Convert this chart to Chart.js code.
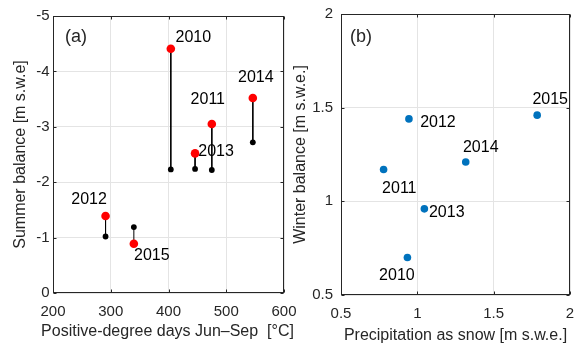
<!DOCTYPE html>
<html>
<head>
<meta charset="utf-8">
<script src="https://cdn.jsdelivr.net/npm/chart.js@4/dist/chart.umd.min.js"></script>
<style>
  html, body { margin: 0; padding: 0; background: #fff; overflow: hidden; width: 574px; height: 345px; }
  canvas { position: absolute; top: 0; }
  #chartA { left: 0; }
  #chartB { left: 290px; }
</style>
</head>
<body>
<canvas id="chartA" width="320" height="345"></canvas>
<canvas id="chartB" width="284" height="345"></canvas>
<script>
// ---- data ----
const years = ['2010', '2011', '2012', '2013', '2014', '2015'];
const pdd = [404, 475, 291, 446, 546, 340];                       // °C, Jun–Sep
const summerBalance = [-4.41, -3.05, -1.39, -2.52, -3.52, -0.89]; // red
const summerBalanceRef = [-2.23, -2.22, -1.02, -2.24, -2.72, -1.19]; // black
const snowPrecip = [0.935, 0.779, 0.945, 1.046, 1.317, 1.785];    // m s.w.e.
const winterBalance = [0.70, 1.17, 1.44, 0.96, 1.21, 1.46];       // m s.w.e.

const pddTicks = [200, 300, 400, 500, 600];
const summerTicks = [-5, -4, -3, -2, -1, 0];
const snowTicks = [0.5, 1, 1.5, 2];
const winterTicks = [0.5, 1, 1.5, 2];

// ---- shared styling ----
const FONT = 'Liberation Sans, Arial, Helvetica, sans-serif';
const TEXT = '#262626';
const GRID = '#e4e4e4';
const AXIS = '#262626';

// stems between the two summer-balance values of each year (null breaks the line)
const stemPoints = [];
years.forEach((_, i) => {
  stemPoints.push({ x: pdd[i], y: summerBalance[i] });
  stemPoints.push({ x: pdd[i], y: summerBalanceRef[i] });
  stemPoints.push({ x: pdd[i], y: null });
});

// box around the plot area with inward tick marks on all four sides
const boxPlugin = {
  id: 'boxAxes',
  beforeDatasetsDraw(chart) {
    const { ctx, chartArea: a, scales } = chart;
    const L = Math.round(a.left) + 0.5, R = Math.round(a.right) - 0.5;
    const T = Math.round(a.top) + 0.5, B = Math.round(a.bottom) - 0.5;
    const len = 3;
    ctx.save();
    ctx.strokeStyle = AXIS;
    ctx.lineWidth = 1;
    ctx.beginPath();
    scales.x.ticks.forEach(t => {
      const px = Math.round(scales.x.getPixelForValue(t.value)) + 0.5;
      ctx.moveTo(px, B); ctx.lineTo(px, B - len);
      ctx.moveTo(px, T); ctx.lineTo(px, T + len);
    });
    scales.y.ticks.forEach(t => {
      const py = Math.round(scales.y.getPixelForValue(t.value)) + 0.5;
      ctx.moveTo(L, py); ctx.lineTo(L + len, py);
      ctx.moveTo(R, py); ctx.lineTo(R - len, py);
    });
    ctx.stroke();
    ctx.strokeRect(L, T, R - L, B - T);
    ctx.restore();
  }
};

// year annotations next to the points of one dataset
const yearLabelPlugin = {
  id: 'yearLabels',
  afterDatasetsDraw(chart, args, opts) {
    const meta = chart.getDatasetMeta(opts.datasetIndex);
    const { ctx } = chart;
    ctx.save();
    ctx.font = opts.font;
    ctx.fillStyle = opts.color;
    ctx.textAlign = 'center';
    ctx.textBaseline = 'middle';
    meta.data.forEach((el, i) => {
      const [dx, dy] = opts.offsets[i];
      ctx.fillText(years[i], el.x + dx, el.y + dy);
    });
    ctx.restore();
  }
};

// panel letter in the upper-left corner
const panelTagPlugin = {
  id: 'panelTag',
  afterDraw(chart, args, opts) {
    const { ctx, chartArea: a } = chart;
    ctx.save();
    ctx.font = opts.font;
    ctx.fillStyle = TEXT;
    ctx.textAlign = 'left';
    ctx.textBaseline = 'middle';
    ctx.fillText(opts.text, a.left + opts.dx, a.top + opts.dy);
    ctx.restore();
  }
};

// x-axis title that may run wider than the plot area (no width squeeze)
const wideXTitlePlugin = {
  id: 'wideXTitle',
  afterDraw(chart, args, opts) {
    if (!opts.text) return;
    const { ctx, chartArea: a } = chart;
    ctx.save();
    ctx.font = opts.font;
    ctx.fillStyle = TEXT;
    ctx.textAlign = 'center';
    ctx.textBaseline = 'middle';
    ctx.fillText(opts.text, (a.left + a.right) / 2 + opts.dx, a.bottom + opts.dy);
    ctx.restore();
  }
};

function axisOpts({ min, max, reverse, ticks, fit, title, titlePad, tickPad }) {
  return {
    type: 'linear',
    min, max,
    reverse: !!reverse,
    afterBuildTicks: s => { s.ticks = ticks.map(v => ({ value: v })); },
    afterFit: s => {
      if (s.isHorizontal()) { s.height = fit; s.paddingLeft = 0; s.paddingRight = 0; }
      else { s.width = fit; s.paddingTop = 0; s.paddingBottom = 0; }
    },
    grid: { color: GRID, lineWidth: 1, drawTicks: false },
    border: { display: false },
    ticks: {
      padding: tickPad,
      color: TEXT,
      font: { family: FONT, size: 15 },
      callback: v => String(v)
    },
    title: {
      display: !!title,
      text: title || '',
      color: TEXT,
      font: { family: FONT, size: 16 },
      padding: titlePad
    }
  };
}

// ---- (a) summer balance vs positive-degree days ----
new Chart(document.getElementById('chartA'), {
  type: 'scatter',
  data: {
    datasets: [
      {
        data: years.map((_, i) => ({ x: pdd[i], y: summerBalance[i] })),
        backgroundColor: '#ff0000', borderWidth: 0, pointRadius: 4.3
      },
      {
        data: years.map((_, i) => ({ x: pdd[i], y: summerBalanceRef[i] })),
        backgroundColor: '#000000', borderWidth: 0, pointRadius: 2.9
      },
      {
        type: 'line',
        data: stemPoints,
        borderColor: '#000000', borderWidth: 1, pointRadius: 0,
        spanGaps: false, fill: false
      }
    ]
  },
  options: {
    responsive: false,
    animation: false,
    events: [],
    layout: { padding: { left: 0, top: 16, right: 320 - 284, bottom: 0 } },
    plugins: {
      legend: { display: false },
      tooltip: { enabled: false },
      yearLabels: {
        datasetIndex: 0,
        font: '16px ' + FONT,
        color: '#000',
        offsets: [[22.5, -11], [-4, -24], [-16.5, -16.5], [21, -2], [3, -20], [18, 12]]
      },
      panelTag: { text: '(a)', font: '18px ' + FONT, dx: 12, dy: 21 },
      wideXTitle: { text: 'Positive-degree days Jun–Sep  [°C]', font: '16px ' + FONT, dx: -1, dy: 38.5 }
    },
    scales: {
      x: axisOpts({ min: 200, max: 600, ticks: pddTicks, fit: 345 - 293, tickPad: 9.5 }),
      y: axisOpts({ min: -5, max: 0, reverse: true, ticks: summerTicks, fit: 53,
        title: 'Summer balance [m s.w.e]', titlePad: { top: 10.5, bottom: 0 }, tickPad: 3.5 })
    }
  },
  plugins: [boxPlugin, yearLabelPlugin, panelTagPlugin, wideXTitlePlugin]
});

// ---- (b) winter balance vs snow precipitation ----
new Chart(document.getElementById('chartB'), {
  type: 'scatter',
  data: {
    datasets: [
      {
        data: years.map((_, i) => ({ x: snowPrecip[i], y: winterBalance[i] })),
        backgroundColor: '#0072bd', borderWidth: 0, pointRadius: 3.8
      }
    ]
  },
  options: {
    responsive: false,
    animation: false,
    events: [],
    layout: { padding: { left: 0, top: 14, right: 284 - 281, bottom: 0 } },
    plugins: {
      legend: { display: false },
      tooltip: { enabled: false },
      yearLabels: {
        datasetIndex: 0,
        font: '16px ' + FONT,
        color: '#000',
        offsets: [[-10.5, 18], [15.7, 19], [29, 4], [22.4, 4], [15, -14], [13, -15.5]]
      },
      panelTag: { text: '(b)', font: '18px ' + FONT, dx: 9, dy: 23 }
    },
    scales: {
      x: axisOpts({ min: 0.5, max: 2, ticks: snowTicks, fit: 345 - 295,
        title: 'Precipitation as snow [m s.w.e.]', titlePad: { top: 0, bottom: 0 }, tickPad: 9.5 }),
      y: axisOpts({ min: 0.5, max: 2, ticks: winterTicks, fit: 51,
        title: 'Winter balance [m s.w.e.]', titlePad: { top: 0.5, bottom: 0 }, tickPad: 8 })
    }
  },
  plugins: [boxPlugin, yearLabelPlugin, panelTagPlugin]
});
</script>
</body>
</html>
